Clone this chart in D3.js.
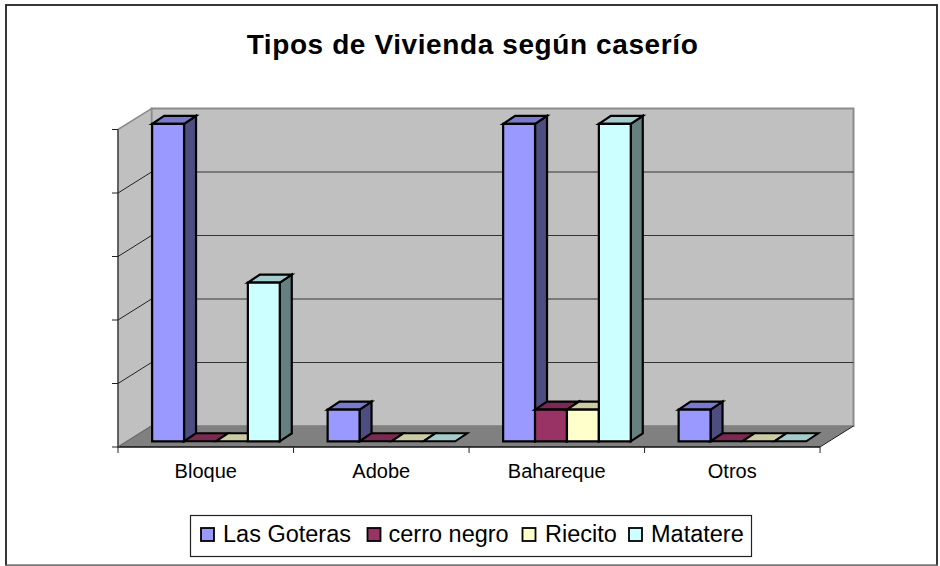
<!DOCTYPE html>
<html><head><meta charset="utf-8">
<script src="https://cdnjs.cloudflare.com/ajax/libs/d3/7.8.5/d3.min.js"></script>
<style>html,body{margin:0;padding:0;background:#fff}svg{display:block}text{font-family:"Liberation Sans",Arial,sans-serif;fill:#000}</style>
</head><body><svg id="c" width="940" height="566"></svg>
<script>
const title = "Tipos de Vivienda según caserío";
const categories = ["Bloque","Adobe","Bahareque","Otros"];
const seriesNames = ["Las Goteras","cerro negro","Riecito","Matatere"];
const lasGoteras = [5,0.5,5,0.5];
const cerroNegro = [0,0,0.5,0];
const riecito = [0,0,0.5,0];
const matatere = [2.5,0,5,0];
const seriesValues = [lasGoteras,cerroNegro,riecito,matatere];
const yTicks = [0,1,2,3,4,5];
const colors = ["#9999FF","#993366","#FFFFCC","#CCFFFF"];

const svg = d3.select("#c");
const shade = (c,k)=>{const r=d3.rgb(c);return d3.rgb(r.r*k,r.g*k,r.b*k).formatHex();};
const poly = (pts,fill,stroke,sw)=>svg.append("polygon").attr("points",pts.map(p=>p.join(",")).join(" "))
  .attr("fill",fill).attr("stroke",stroke||"none").attr("stroke-width",sw||0).attr("stroke-linejoin","miter");
const line = (x1,y1,x2,y2,stroke,sw)=>svg.append("line").attr("x1",x1).attr("y1",y1).attr("x2",x2).attr("y2",y2).attr("stroke",stroke).attr("stroke-width",sw||1);

// frame
svg.append("rect").attr("x",6).attr("y",5).attr("width",931).attr("height",560.5).attr("fill","#fff").attr("stroke","#222").attr("stroke-width",1.8);
line(5,565.5,938,565.5,"#777",1.5);

// 3D geometry
const x0=118,x1=820,yBase=447,yTop=129.5,wallDx=33.5,wallDy=-21,barDx=12,barDy=-8,barOx=10.2,barOy=-5.7;
const y = d3.scaleLinear().domain([0,5]).range([yBase,yTop]);
const xCat = d3.scaleBand().domain(categories).range([x0,x1]).paddingInner(48/176).paddingOuter(24/176);
const xSer = d3.scaleBand().domain(seriesNames).range([0,xCat.bandwidth()]);

// walls
poly([[x0+wallDx,yTop+wallDy],[x1+wallDx,yTop+wallDy],[x1+wallDx,yBase+wallDy],[x0+wallDx,yBase+wallDy]],"#C0C0C0","#8c8c8c",2);
poly([[x0,yTop],[x0+wallDx,yTop+wallDy],[x0+wallDx,yBase+wallDy],[x0,yBase]],"#C0C0C0","#8c8c8c",1.5);
poly([[x0,yBase],[x0+wallDx,yBase+wallDy],[x1+wallDx,yBase+wallDy],[x1,yBase]],"#808080");

// gridlines
yTicks.slice(1,-1).forEach(t=>{
  const v=y(t);
  line(x0,v,x0+wallDx,v+wallDy,"#222",1);
  line(x0+wallDx,v+wallDy,x1+wallDx,v+wallDy,"#333",1.2);
});
line(x0,yBase,x1,yBase,"#111",1.4);
line(x1,yBase,x1+wallDx,yBase+wallDy,"#222",1);
line(x0,yBase,x0+wallDx,yBase+wallDy,"#666",1);

// axes
line(x0,yTop,x0,yBase,"#222",1);
yTicks.forEach(t=>line(x0-6,y(t),x0,y(t),"#222",1));
const catTicks=[x0].concat(categories.map(c=>xCat(c)+xCat.bandwidth()+24));
catTicks.forEach(v=>line(v,yBase,v,yBase+6,"#222",1));
categories.forEach(c=>{
  svg.append("text").attr("x",xCat(c)+xCat.bandwidth()/2).attr("y",478).attr("text-anchor","middle").attr("font-size",20).text(c);
});

// bars
categories.forEach((c,ci)=>{
  seriesNames.forEach((s,si)=>{
    const v=seriesValues[si][ci];
    const l=xCat(c)+xSer(s)+barOx, w=xSer.bandwidth(), r=l+w, b=y(0)+barOy, t=y(v)+barOy;
    const k=colors[si];
    if(v>0){
      poly([[r,t],[r+barDx,t+barDy],[r+barDx,b+barDy],[r,b]],shade(k,0.5),"#000",2.2);
      poly([[l,t],[l+barDx,t+barDy],[r+barDx,t+barDy],[r,t]],shade(k,0.8),"#000",2.2);
      poly([[l,t],[r,t],[r,b],[l,b]],k,"#000",2.2);
    } else {
      poly([[l,b],[l+barDx,b+barDy],[r+barDx,b+barDy],[r,b]],shade(k,0.8),"#000",2);
    }
  });
});

// title
svg.append("text").attr("x",472.5).attr("y",54).attr("text-anchor","middle").attr("font-size",28).attr("letter-spacing",0.6).attr("font-weight","bold").text(title);

// legend
svg.append("rect").attr("x",190.5).attr("y",515.5).attr("width",561).attr("height",41).attr("fill","#fff").attr("stroke","#222").attr("stroke-width",1.2);
const legX=[201,367.5,522.5,629], legT=[223,388.5,545,651];
seriesNames.forEach((s,i)=>{
  svg.append("rect").attr("x",legX[i]).attr("y",528).attr("width",13).attr("height",13).attr("fill",colors[i]).attr("stroke","#000").attr("stroke-width",1.8);
  svg.append("text").attr("x",legT[i]).attr("y",542).attr("font-size",23.5).text(s);
});
</script></body></html>
